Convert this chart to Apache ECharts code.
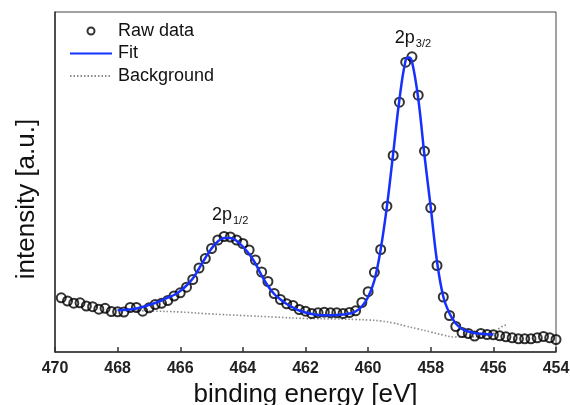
<!DOCTYPE html>
<html>
<head>
<meta charset="utf-8">
<script src="https://cdn.jsdelivr.net/npm/echarts@6/dist/echarts.min.js"></script>
<style>
  html, body { margin: 0; padding: 0; background: #fff; }
  #chart { width: 570px; height: 405px; }
</style>
</head>
<body>
<div id="chart"></div>
<script>
// Measured spectrum (binding energy in eV, intensity in arbitrary units)
const rawEnergy = [
  469.8, 469.6, 469.4, 469.2, 469.0, 468.8, 468.6, 468.4, 468.2, 468.0,
  467.8, 467.6, 467.4, 467.2, 467.0, 466.8, 466.6, 466.4, 466.2, 466.0,
  465.8, 465.6, 465.4, 465.2, 465.0, 464.8, 464.6, 464.4, 464.2, 464.0,
  463.8, 463.6, 463.4, 463.2, 463.0, 462.8, 462.6, 462.4, 462.2, 462.0,
  461.8, 461.6, 461.4, 461.2, 461.0, 460.8, 460.6, 460.4, 460.2, 460.0,
  459.8, 459.6, 459.4, 459.2, 459.0, 458.8, 458.6, 458.4, 458.2, 458.0,
  457.8, 457.6, 457.4, 457.2, 457.0, 456.8, 456.6, 456.4, 456.2, 456.0,
  455.8, 455.6, 455.4, 455.2, 455.0, 454.8, 454.6, 454.4, 454.2, 454.0
];
const rawIntensity = [
  54.2, 51.0, 48.8, 49.2, 46.0, 45.3, 42.8, 43.7, 40.5, 40.2,
  40.0, 44.5, 44.5, 40.8, 44.2, 47.5, 48.7, 51.5, 56.0, 59.2,
  64.8, 72.5, 84.0, 93.5, 103.5, 112.0, 115.5, 115.0, 112.0, 108.5,
  102.0, 92.0, 80.0, 70.5, 58.5, 52.5, 48.2, 46.5, 42.5, 40.8,
  38.5, 39.2, 39.8, 39.2, 39.2, 38.5, 39.5, 41.2, 49.5, 60.3,
  79.7, 102.5, 145.8, 196.5, 249.8, 289.8, 295.2, 256.8, 200.8, 144.2,
  86.5, 55.0, 36.5, 25.5, 19.5, 18.5, 16.0, 18.5, 17.5, 17.2,
  16.2, 15.2, 14.2, 13.2, 13.2, 13.2, 14.2, 15.5, 14.2, 12.5
];

// Fitted envelope
const fitEnergy = [
  468.0, 467.8, 467.6, 467.4, 467.2, 467.0, 466.8, 466.6, 466.4, 466.2,
  466.0, 465.8, 465.6, 465.4, 465.2, 465.0, 464.8, 464.6, 464.4, 464.2,
  464.0, 463.8, 463.6, 463.4, 463.2, 463.0, 462.8, 462.6, 462.4, 462.2,
  462.0, 461.8, 461.6, 461.4, 461.2, 461.0, 460.8, 460.6, 460.4, 460.2,
  460.0, 459.8, 459.6, 459.4, 459.2, 459.0, 458.8, 458.7, 458.6, 458.4,
  458.2, 458.0, 457.8, 457.6, 457.4, 457.2, 457.0, 456.8, 456.6, 456.4,
  456.2, 456.0
];
const fitIntensity = [
  42.0, 42.0, 42.5, 43.5, 45.0, 47.0, 49.0, 51.5, 54.5, 57.0,
  61.0, 66.5, 73.5, 83.5, 94.0, 103.5, 110.5, 114.0, 114.0, 111.0,
  105.5, 98.0, 88.5, 76.5, 66.0, 58.0, 52.5, 48.0, 44.5, 41.5,
  39.5, 38.0, 37.2, 36.8, 36.8, 37.0, 37.5, 38.5, 40.5, 45.5,
  55.0, 71.5, 102.5, 145.5, 198.5, 252.5, 292.0, 294.5, 290.5, 253.5,
  196.5, 144.5, 90.5, 55.5, 38.5, 28.5, 23.0, 20.5, 19.0, 18.2,
  17.7, 17.5
];

// Background curve
const bgEnergy = [
  468.0, 467.6, 467.0, 466.0, 465.0, 464.0, 463.0, 462.0, 461.0, 460.4,
  460.0, 459.6, 459.2, 458.8, 458.4, 458.0, 457.6, 457.2, 456.8, 456.4,
  456.0, 455.8, 455.6
];
const bgIntensity = [
  42.0, 41.5, 41.0, 40.0, 38.0, 36.5, 35.0, 33.5, 33.0, 32.5,
  32.0, 31.0, 29.0, 26.0, 23.0, 20.0, 17.0, 15.0, 15.0, 16.0,
  18.5, 24.0, 27.0
];

// Axis ticks and peak annotations
const energyTicks = [454, 456, 458, 460, 462, 464, 466, 468, 470];
const peakEnergy = [464.6, 458.6];
const peakMain = ['2p', '2p'];
const peakSub = ['1/2', '3/2'];

const FONT = '"Liberation Sans", Arial, Helvetica, sans-serif';
const zip = (xs, ys) => xs.map((x, i) => [x, ys[i]]);

const peakMarks = peakEnergy.map((e, i) => ({
  coord: [e, rawIntensity[rawEnergy.indexOf(e)]],
  label: {
    formatter: '{a|' + peakMain[i] + '}{b|' + peakSub[i] + '}',
    distance: i === 0 ? 10 : 7,
    offset: i === 0 ? [6, 0] : [1, 0]
  }
}));

const chart = echarts.init(document.getElementById('chart'), null, { renderer: 'canvas' });

chart.setOption({
  backgroundColor: '#ffffff',
  animation: false,
  textStyle: { fontFamily: FONT },
  grid: {
    left: 55, right: 14, top: 12, bottom: 53,
    outerBoundsMode: 'none',
    containLabel: false,
    show: true, borderColor: '#444', borderWidth: 1, backgroundColor: 'transparent'
  },
  legend: {
    orient: 'vertical',
    left: 69, top: 22,
    padding: 0,
    itemGap: 4.5,
    itemWidth: 42, itemHeight: 7,
    textStyle: { fontFamily: FONT, fontSize: 18, color: '#111', padding: [0, 0, 0, 1] },
    data: [
      { name: 'Raw data', icon: 'circle',
        itemStyle: { color: 'transparent', borderColor: '#000', borderWidth: 2 } },
      { name: 'Fit', itemStyle: { color: 'transparent', borderWidth: 0, opacity: 0 } },
      { name: 'Background', itemStyle: { color: 'transparent', borderWidth: 0, opacity: 0 } }
    ]
  },
  xAxis: {
    type: 'value',
    inverse: true,
    min: energyTicks[0],
    max: energyTicks[energyTicks.length - 1],
    interval: energyTicks[1] - energyTicks[0],
    name: 'binding energy [eV]',
    nameLocation: 'middle',
    nameGap: 28,
    nameTextStyle: { fontFamily: FONT, fontSize: 26, color: '#111' },
    axisLine: { onZero: false, lineStyle: { color: '#333', width: 1.5 } },
    axisTick: { inside: true, length: 5, lineStyle: { color: '#333', width: 1.5 } },
    axisLabel: { margin: 9, fontFamily: FONT, fontSize: 16, fontWeight: 'bold', color: '#222' },
    splitLine: { show: false }
  },
  yAxis: {
    type: 'value',
    min: 0, max: 340,
    name: 'intensity [a.u.]',
    nameLocation: 'middle',
    nameGap: 15,
    nameTextStyle: { fontFamily: FONT, fontSize: 26, color: '#111', padding: [0, 34, 0, 0] },
    axisLine: { show: true, lineStyle: { color: '#333', width: 1.5 } },
    axisTick: { show: false },
    axisLabel: { show: false },
    splitLine: { show: false }
  },
  series: [
    {
      name: 'Raw data',
      type: 'scatter',
      data: zip(rawEnergy, rawIntensity),
      symbol: 'circle',
      symbolSize: 9,
      clip: false,
      itemStyle: { color: 'transparent', borderColor: '#000', borderWidth: 2 },
      z: 2
    },
    {
      name: 'Background',
      type: 'line',
      data: zip(bgEnergy, bgIntensity),
      smooth: true,
      showSymbol: false,
      symbol: 'none',
      lineStyle: { color: '#8a8a8a', width: 1.6, type: [1.5, 2] },
      itemStyle: { color: '#8a8a8a' },
      z: 1
    },
    {
      name: 'Fit',
      type: 'line',
      data: zip(fitEnergy, fitIntensity),
      smooth: 0.4,
      showSymbol: false,
      symbol: 'none',
      lineStyle: { color: '#1530ff', width: 2.5 },
      itemStyle: { color: '#1530ff' },
      z: 3,
      markPoint: {
        symbol: 'circle',
        symbolSize: 0,
        silent: true,
        label: {
          show: true,
          position: 'top',
          color: '#111',
          rich: {
            a: { fontFamily: FONT, fontSize: 18, color: '#111' },
            b: { fontFamily: FONT, fontSize: 11, color: '#111', padding: [12, 0, 0, 1] }
          }
        },
        data: peakMarks
      }
    }
  ]
});
</script>
</body>
</html>
